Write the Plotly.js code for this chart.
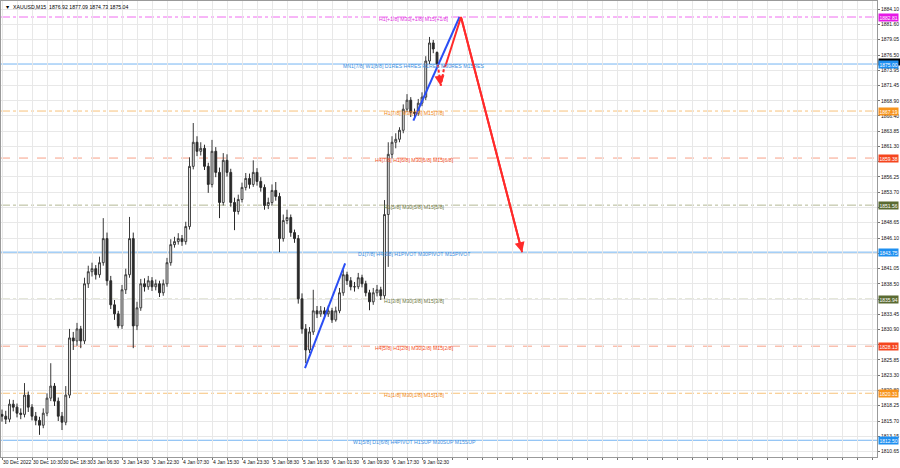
<!DOCTYPE html>
<html>
<head>
<meta charset="utf-8">
<script src="https://cdn.plot.ly/plotly-3.0.1.min.js"></script>
<style>html,body{margin:0;padding:0;background:#fff;}#chart{width:900px;height:468px;}</style>
</head>
<body>
<div id="chart"></div>
<script>
// Hourly candles (index 0 = 30 Dec 2022 early session)
const barIndex = Array.from({length: 117}, (_, i) => i);
const openP = [1816.8,1816.5,1816.0,1818.5,1818.0,1817.0,1816.8,1820.0,1818.0,1816.5,
1815.8,1815.0,1817.0,1819.5,1821.5,1819.0,1816.5,1815.5,1820.0,1829.5,
1829.0,1831.0,1829.0,1838.5,1840.5,1841.0,1840.0,1842.0,1846.0,1839.0,
1835.0,1833.5,1831.5,1837.5,1840.0,1846.0,1831.5,1834.5,1838.5,1838.0,
1839.0,1838.0,1838.5,1837.0,1838.5,1842.0,1845.0,1845.5,1846.0,1845.5,
1848.0,1858.0,1862.0,1860.5,1861.0,1858.0,1855.0,1860.5,1857.0,1852.0,
1859.0,1857.0,1852.0,1850.5,1852.5,1854.5,1856.0,1855.0,1857.0,1855.5,
1854.5,1851.5,1852.0,1854.0,1853.0,1846.0,1849.0,1849.5,1847.0,1846.0,
1836.0,1831.0,1827.5,1830.5,1834.0,1833.5,1834.0,1833.5,1834.0,1832.5,
1834.0,1837.0,1840.0,1839.0,1838.0,1838.0,1839.5,1838.5,1837.0,1835.5,
1837.0,1837.5,1836.5,1850.0,1860.0,1862.0,1862.5,1864.0,1867.5,1869.0,
1867.0,1866.8,1868.5,1869.5,1875.5,1878.5,1876.92];
const highP = [1817.6,1817.4,1819.3,1819.2,1818.6,1817.8,1822.0,1820.6,1818.5,1817.2,
1816.4,1817.8,1820.3,1825.3,1822.0,1819.6,1817.2,1821.5,1831.0,1830.5,
1832.0,1831.5,1839.5,1841.5,1842.0,1841.6,1843.0,1849.4,1847.0,1839.8,
1835.8,1834.0,1838.3,1841.0,1849.6,1847.0,1835.5,1839.3,1839.4,1839.8,
1839.6,1839.2,1839.0,1839.2,1842.8,1845.9,1846.3,1846.9,1846.6,1848.8,
1859.5,1865.2,1863.0,1862.0,1861.6,1858.6,1862.4,1861.2,1857.8,1860.2,
1860.0,1857.6,1852.8,1853.3,1855.3,1856.9,1856.8,1859.0,1857.7,1856.2,
1855.0,1852.8,1855.0,1855.4,1853.6,1850.0,1850.8,1850.0,1847.5,1846.6,
1836.9,1831.8,1831.3,1837.5,1834.8,1834.8,1834.6,1834.9,1834.5,1834.7,
1837.8,1840.8,1840.5,1839.6,1838.8,1840.3,1840.0,1839.0,1837.5,1837.8,
1838.3,1838.0,1852.4,1862.0,1863.0,1863.5,1864.5,1868.3,1870.0,1869.5,
1867.6,1869.2,1870.3,1876.3,1879.5,1879.0,1877.09];
const lowP = [1815.6,1815.2,1815.5,1817.3,1816.3,1816.0,1816.3,1817.2,1815.8,1815.0,
1813.4,1814.5,1816.5,1819.0,1818.2,1815.7,1814.2,1815.0,1819.5,1827.5,
1828.2,1827.8,1828.5,1837.8,1839.7,1839.2,1839.5,1841.5,1838.2,1834.3,
1832.5,1831.1,1831.0,1836.8,1839.5,1827.8,1830.8,1834.0,1837.2,1837.5,
1837.3,1837.4,1836.3,1836.5,1838.0,1841.5,1844.5,1845.0,1844.8,1845.0,
1847.5,1857.5,1859.7,1859.8,1857.4,1853.6,1854.5,1856.2,1849.4,1851.5,
1856.3,1851.3,1847.4,1850.0,1852.0,1854.0,1854.3,1854.6,1854.8,1853.8,
1850.8,1850.9,1851.5,1852.3,1843.75,1845.5,1848.4,1846.3,1845.3,1835.2,
1830.2,1825.3,1827.0,1830.0,1832.8,1833.0,1832.8,1833.0,1832.0,1832.2,
1833.6,1836.5,1838.3,1837.4,1837.2,1837.6,1837.9,1836.4,1834.1,1835.0,
1836.4,1835.8,1836.0,1841.3,1859.3,1861.0,1862.0,1863.5,1867.0,1866.2,
1866.2,1866.4,1868.0,1869.0,1875.0,1876.8,1874.73];
const closeP = [1816.5,1816.0,1818.5,1818.0,1817.0,1816.8,1820.0,1818.0,1816.5,1815.8,
1815.0,1817.0,1819.5,1821.5,1819.0,1816.5,1815.5,1820.0,1829.5,1829.0,
1831.0,1829.0,1838.5,1840.5,1841.0,1840.0,1842.0,1846.0,1839.0,1835.0,
1833.5,1831.5,1837.5,1840.0,1846.0,1831.5,1834.5,1838.5,1838.0,1839.0,
1838.0,1838.5,1837.0,1838.5,1842.0,1845.0,1845.5,1846.0,1845.5,1848.0,
1858.0,1862.0,1860.5,1861.0,1858.0,1855.0,1860.5,1857.0,1852.0,1859.0,
1857.0,1852.0,1850.5,1852.5,1854.5,1856.0,1855.0,1857.0,1855.5,1854.5,
1851.5,1852.0,1854.0,1853.0,1846.0,1849.0,1849.5,1847.0,1846.0,1836.0,
1831.0,1827.5,1830.5,1834.0,1833.5,1834.0,1833.5,1834.0,1832.5,1834.0,
1837.0,1840.0,1839.0,1838.0,1838.0,1839.5,1838.5,1837.0,1835.5,1837.0,
1837.5,1836.5,1850.0,1860.0,1862.0,1862.5,1864.0,1867.5,1869.0,1867.0,
1866.8,1868.5,1869.5,1875.5,1878.5,1877.5,1875.04];

// Time axis labels (one every 8 hourly bars)
const dateLabels = ["30 Dec 2022","30 Dec 10:30","30 Dec 18:30","3 Jan 06:30","3 Jan 14:30",
"3 Jan 22:30","4 Jan 07:30","4 Jan 15:30","4 Jan 23:30","5 Jan 08:30","5 Jan 16:30",
"6 Jan 01:30","6 Jan 09:30","6 Jan 17:30","9 Jan 02:30"];

// Price axis ticks (labels hidden where the level price boxes cover them)
const priceTicks = [1884.10,1881.60,1879.05,1876.50,1873.95,1871.45,1868.90,1866.40,1863.85,1861.30,
1858.75,1856.25,1853.70,1851.15,1848.65,1846.10,1843.55,1841.05,1838.50,1835.95,
1833.45,1830.90,1828.35,1825.85,1823.30,1820.80,1818.25,1815.70,1813.15,1810.65];
const coveredTicks = [1858.75,1851.15,1843.55,1835.95,1828.35];

// Murrey-math style levels
const levelPrices = [1882.81,1875.00,1867.19,1859.38,1851.56,1843.75,1835.94,1828.13,1820.31,1812.50];
const levelTexts = ["H1[+1/8] M30[+1/8] M15[+1/8]",
"MN1[7/8] W1[8/8] D1RES H4RES H1RES M30RES M15RES",
"H1[7/8] M30[7/8] M15[7/8]",
"H4[7/8] H1[6/8] M30[6/8] M15[6/8]",
"H1[5/8] M30[5/8] M15[5/8]",
"D1[7/8] H4[6/8] H1PIVOT M30PIVOT M15PIVOT",
"H1[3/8] M30[3/8] M15[3/8]",
"H4[5/8] H1[2/8] M30[2/8] M15[2/8]",
"H1[1/8] M30[1/8] M15[1/8]",
"W1[5/8] D1[6/8] H4PIVOT H1SUP M30SUP M15SUP"];
const levelKinds = ["plus","blue","orange","red","olive","blue","olive","red","orange","blue"];
const levelLabelX = 109.9;

// Drawn trend / forecast lines
const blueLine1X = [80.8, 91.5],   blueLine1Y = [1824.5, 1841.9];
const blueLine2X = [109.7, 122.0], blueLine2Y = [1865.6, 1882.81];
const redDashX = [116.2, 117.0, 118.0], redDashY = [1874.9, 1871.4, 1874.7];
const redSolidX = [118.2, 122.4, 138.7], redSolidY = [1874.6, 1882.81, 1843.75];

const bidPrice = 1875.04;
const titleText = "XAUUSD,M15  1876.92 1877.09 1874.73 1875.04";

const styles = {
  plus:   {line:"#f06cf0", dash:"dashdot", text:"#e033e0", box:"#e619e6"},
  blue:   {line:"#74b4f2", dash:"solid",   text:"#3d8fe0", box:"#1e8ff0"},
  orange: {line:"#f7c27a", dash:"dashdot", text:"#f08a1c", box:"#f7941d"},
  red:    {line:"#f7a088", dash:"dash",    text:"#f5532a", box:"#f5451e"},
  olive:  {line:"#b3b894", dash:"dashdot", text:"#6f7a45", box:"#5a6b32"}
};
const FONT = "Liberation Sans, Arial, sans-serif";

const xTickVals = [], xTickText = [];
for (let v = 0; v <= 232; v += 4) {
  xTickVals.push(v);
  const k = v / 8;
  xTickText.push(Number.isInteger(k) && k < dateLabels.length ? dateLabels[k] : "");
}

const traces = [
  {type:"candlestick", x:barIndex, open:openP, high:highP, low:lowP, close:closeP,
   increasing:{line:{color:"#3a3a3a", width:1}, fillcolor:"#ffffff"},
   decreasing:{line:{color:"#2a2a2a", width:1}, fillcolor:"#2a2a2a"},
   whiskerwidth:0, hoverinfo:"skip"},
  {type:"scatter", mode:"lines", x:blueLine1X, y:blueLine1Y, line:{color:"#2a4ef5", width:2}, hoverinfo:"skip"},
  {type:"scatter", mode:"lines", x:blueLine2X, y:blueLine2Y, line:{color:"#2a4ef5", width:2}, hoverinfo:"skip"},
  {type:"scatter", mode:"lines", x:redDashX, y:redDashY, line:{color:"#ff2a2a", width:2, dash:"3px,2px"}, hoverinfo:"skip"},
  {type:"scatter", mode:"lines", x:redSolidX, y:redSolidY, line:{color:"#ff2a2a", width:2}, hoverinfo:"skip"}
];

const shapes = levelPrices.map((p, i) => {
  const s = styles[levelKinds[i]];
  return {type:"line", xref:"paper", x0:0, x1:1, yref:"y", y0:p, y1:p, layer:"below",
          line:{color:s.line, width:1, dash:s.dash}};
});

const annotations = [];
levelPrices.forEach((p, i) => {
  const s = styles[levelKinds[i]];
  annotations.push({xref:"x", yref:"y", x:levelLabelX, y:p, yshift:-1.5, text:levelTexts[i],
    showarrow:false, font:{family:FONT, size:5.2, color:s.text}, xanchor:"center", yanchor:"middle"});
});
// bid price marker (black strip) just under the blue box
annotations.push({xref:"paper", yref:"y", x:1, y:bidPrice, yshift:2, xanchor:"left", yanchor:"middle",
  text:" ", width:20, height:5, showarrow:false, bgcolor:"#000000", borderpad:0.5, xshift:1,
  font:{family:FONT, size:5, color:"#000000"}});
levelPrices.forEach((p, i) => {
  const s = styles[levelKinds[i]];
  annotations.push({xref:"paper", yref:"y", x:1, y:p, xanchor:"left", yanchor:"middle", xshift:1,
    text:p.toFixed(2), showarrow:false, bgcolor:s.box, borderpad:0.5,
    font:{family:FONT, size:5, color:"#ffffff"}});
});
// arrowheads
annotations.push({xref:"x", yref:"y", axref:"x", ayref:"y",
  x:redSolidX[2], y:redSolidY[2], ax:redSolidX[1], ay:redSolidY[1], text:"",
  showarrow:true, arrowhead:2, arrowsize:1, arrowwidth:2, arrowcolor:"#ff2a2a", standoff:0});
annotations.push({xref:"x", yref:"y", axref:"x", ayref:"y",
  x:redDashX[1], y:redDashY[1], ax:redDashX[1] - 0.15, ay:redDashY[1] + 0.7, text:"",
  showarrow:true, arrowhead:2, arrowsize:1, arrowwidth:2, arrowcolor:"#ff2a2a", standoff:0});
// title
annotations.push({xref:"paper", yref:"paper", x:0, y:1, xanchor:"left", yanchor:"top", xshift:2, yshift:-1,
  text:"\u25BC  " + titleText, showarrow:false, font:{family:FONT, size:5.2, color:"#000"}});

const layout = {
  width:900, height:468,
  margin:{l:1, r:23, t:1, b:11, pad:0},
  paper_bgcolor:"#ffffff", plot_bgcolor:"#ffffff",
  showlegend:false, hovermode:false, dragmode:false,
  xaxis:{range:[-0.27, 233.33], tickmode:"array", tickvals:xTickVals, ticktext:xTickText,
    tickangle:0, ticklabelposition:"outside right", ticks:"outside", ticklen:2, tickcolor:"#777",
    tickfont:{family:FONT, size:5, color:"#111"}, showgrid:true, gridcolor:"#e8e8e8", gridwidth:1,
    showline:true, linecolor:"#9a9a9a", mirror:true, zeroline:false, automargin:false,
    rangeslider:{visible:false}, fixedrange:true},
  yaxis:{range:[1809.72, 1885.47], side:"right", tickmode:"array", tickvals:priceTicks,
    ticktext:priceTicks.map(v => coveredTicks.includes(v) ? "" : v.toFixed(2)), ticks:"outside", ticklen:2, tickcolor:"#777",
    tickfont:{family:FONT, size:5, color:"#111"}, showgrid:true, gridcolor:"#e8e8e8", gridwidth:1,
    showline:true, linecolor:"#9a9a9a", mirror:true, zeroline:false, automargin:false, fixedrange:true},
  shapes:shapes, annotations:annotations
};

Plotly.newPlot("chart", traces, layout, {staticPlot:true, displayModeBar:false});
</script>
</body>
</html>
